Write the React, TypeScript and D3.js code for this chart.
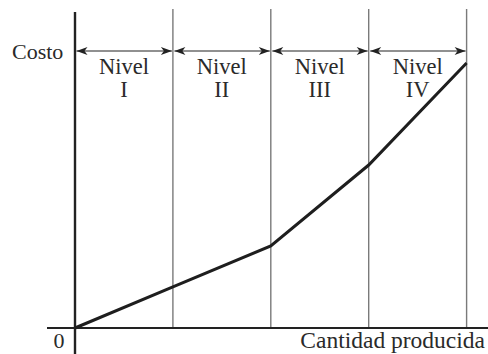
import React from "react";
import * as d3 from "d3";

const quantities = [0, 1, 2, 3, 4];
const costs = [0, 15.5, 31, 61.5, 100];
const levelNames = ["I", "II", "III", "IV"];
const levelLabel = "Nivel";
const yLabel = "Costo";
const xLabel = "Cantidad producida";
const originLabel = "0";

const W = 488;
const H = 354;
const FONT = "'Liberation Serif', 'DejaVu Serif', serif";

export default function App() {
  const x = d3.scaleLinear().domain([0, 4]).range([75, 466.6]);
  const y = d3.scaleLinear().domain([0, 100]).range([328, 63]);
  const line = d3
    .line<number>()
    .x((_, i) => x(quantities[i]))
    .y((d) => y(d));
  const arrowY = 51;

  return (
    <svg
      width={W}
      height={H}
      style={{ position: "absolute", left: 0, top: 0, background: "#fff" }}
    >
      <defs>
        <marker
          id="ah"
          viewBox="-12 -6 14 12"
          markerWidth={14}
          markerHeight={12}
          refX={0}
          refY={0}
          orient="auto-start-reverse"
          markerUnits="userSpaceOnUse"
        >
          <path d="M0,0 L-11,-4 L-8,0 L-11,4 Z" fill="#222" />
        </marker>
      </defs>
      {quantities.slice(1).map((q) => (
        <line
          key={"v" + q}
          x1={x(q)}
          x2={x(q)}
          y1={9}
          y2={y(0)}
          stroke="#7a7a7a"
          strokeWidth={1.4}
        />
      ))}
      <line x1={47} x2={W} y1={y(0)} y2={y(0)} stroke="#222" strokeWidth={2.2} />
      <line x1={x(0)} x2={x(0)} y1={12} y2={H} stroke="#222" strokeWidth={2.4} />
      {levelNames.map((n, i) => (
        <line
          key={"a" + n}
          x1={x(quantities[i]) + 1.5}
          x2={x(quantities[i + 1]) - 1}
          y1={arrowY}
          y2={arrowY}
          stroke="#222"
          strokeWidth={1.1}
          markerStart="url(#ah)"
          markerEnd="url(#ah)"
        />
      ))}
      {levelNames.map((n, i) => {
        const cx = (x(quantities[i]) + x(quantities[i + 1])) / 2;
        return (
          <g key={"l" + n} fontFamily={FONT} fontSize={22.5} fill="#2a2a2a" textAnchor="middle">
            <text x={cx} y={74}>{levelLabel}</text>
            <text x={cx} y={97}>{n}</text>
          </g>
        );
      })}
      <text x={12} y={59} fontFamily={FONT} fontSize={22} fill="#2a2a2a">
        {yLabel}
      </text>
      <text x={59} y={348} fontFamily={FONT} fontSize={22} fill="#2a2a2a" textAnchor="middle">
        {originLabel}
      </text>
      <text x={485} y={348} fontFamily={FONT} fontSize={23.5} fill="#2a2a2a" textAnchor="end">
        {xLabel}
      </text>
      <path
        d={line(costs) || ""}
        fill="none"
        stroke="#1e1e1e"
        strokeWidth={3}
        strokeLinejoin="miter"
      />
    </svg>
  );
}
